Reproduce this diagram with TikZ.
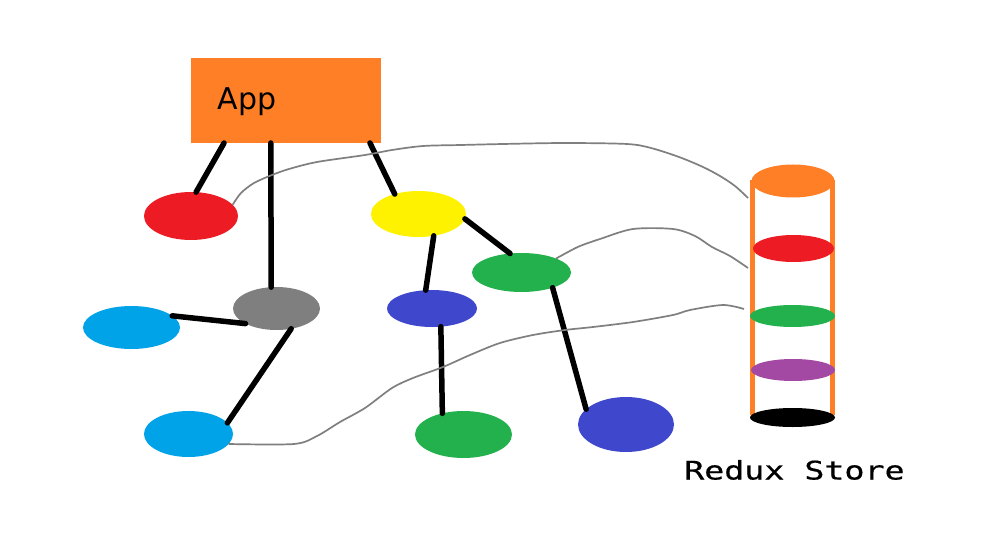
\documentclass[tikz,border=0pt]{standalone}
\usepackage{fontspec}
\usetikzlibrary{shapes.geometric,calc}
\newfontfamily\appfont{DejaVu Sans}
\newfontfamily\reduxfont[FakeStretch=1.3,FakeBold=0.6]{DejaVu Sans Mono}
\definecolor{pOrange}{HTML}{FF7F27}
\definecolor{pRed}{HTML}{ED1C24}
\definecolor{pYellow}{HTML}{FFF200}
\definecolor{pGreen}{HTML}{22B14C}
\definecolor{pBlue}{HTML}{3F48CC}
\definecolor{pCyan}{HTML}{00A2E8}
\definecolor{pGray}{HTML}{7F7F7F}
\definecolor{pPurple}{HTML}{A349A4}
\tikzset{
  ell/.style={ellipse, draw=none, inner sep=0pt, outer sep=0pt},
  link/.style={line width=5.5pt, line cap=round, black},
  wire/.style={line width=1.7pt, pGray},
  bar/.style={fill=pOrange, draw=none},
}
\begin{document}
\begin{tikzpicture}[x=1pt,y=-1pt]
\useasboundingbox[fill=white] (0,0) rectangle (995,540);
% App box
\node[rectangle, fill=pOrange, minimum width=190pt, minimum height=85pt, inner sep=0pt, outer sep=0pt] (app) at (286,100.5) {};
\node[anchor=base west, inner sep=0pt, font=\appfont\fontsize{30}{36}\selectfont] (applabel) at (217.5,109.5) {App};
% tree nodes
\node[ell, fill=pRed, minimum width=94pt, minimum height=48pt] (red) at (191,216) {};
\node[ell, fill=pYellow, minimum width=95pt, minimum height=46pt] (yellow) at (418.5,214) {};
\node[ell, fill=pGreen, minimum width=99pt, minimum height=39pt] (greenA) at (521.5,272.5) {};
\node[ell, fill=pGray, minimum width=87pt, minimum height=43pt] (gray) at (276.5,308.5) {};
\node[ell, fill=pBlue, minimum width=90pt, minimum height=37pt] (blueA) at (432,308.5) {};
\node[ell, fill=pCyan, minimum width=97pt, minimum height=43pt] (cyanA) at (131.5,327.5) {};
\node[ell, fill=pCyan, minimum width=89pt, minimum height=46pt] (cyanB) at (188.5,434) {};
\node[ell, fill=pGreen, minimum width=97pt, minimum height=47pt] (greenB) at (463.5,434.5) {};
\node[ell, fill=pBlue, minimum width=96pt, minimum height=55pt] (blueB) at (626,424.5) {};
% redux store cylinder
\fill[bar] (750,180) rectangle (755,415);
\fill[bar] (830,180) rectangle (835,415);
\node[ell, fill=pOrange, minimum width=83pt, minimum height=33pt] (sTop) at (793,181) {};
\node[ell, fill=pRed, minimum width=81pt, minimum height=27pt] (sRed) at (793.5,248.5) {};
\node[ell, fill=pGreen, minimum width=85pt, minimum height=22pt] (sGreen) at (792.5,316) {};
\node[ell, fill=pPurple, minimum width=84pt, minimum height=22pt] (sPurple) at (793,370) {};
\node[ell, fill=black, minimum width=85pt, minimum height=19pt] (sBlack) at (792.5,417.5) {};
\node[anchor=base west, inner sep=0pt, font=\reduxfont\fontsize{25.6}{30}\selectfont] (storelabel) at (684,479.5) {Redux Store};
\coordinate (s1) at (748,198);
\coordinate (s2) at (748,268);
\coordinate (s3) at (744,309);
% connectors
\draw[link] ($(app.south west)!0.174!(app.south east)$) -- (red.78);
\draw[link] ($(app.south west)!0.42!(app.south east)$) -- (gray.104);
\draw[link] ($(app.south west)!0.942!(app.south east)$) -- (yellow.140);
\draw[link] (gray.206) -- (cyanA.16);
\draw[link] (gray.-54) -- (cyanB.16);
\draw[link] (yellow.-55) -- (blueA.109);
\draw[link] (yellow.-6) -- (greenA.121);
\draw[link] (greenA.-26) -- (blueB.159);
\draw[link] (blueA.-64) -- (greenB.135);
% state wires
\draw[wire] plot[smooth, tension=0.5] coordinates {(red.15) (241,193) (254,183) (272,175) (289,169) (317,162) (365,155) (392,150) (423,146) (461,145) (503,144) (565,143) (627,144) (651,148) (679,157) (703,167) (720,176) (735,186) (s1)};
\draw[wire] plot[smooth, tension=0.5] coordinates {(greenA.22) (568,252) (580,246) (600,239) (633,229) (673,229) (695,236) (712,247) (730,256) (s2)};
\draw[wire] plot[smooth, tension=0.5] coordinates {(cyanB.-14) (294,444) (317,436) (340,422) (365,408) (392,388) (413,378) (443,367) (470,355) (500,343) (533,335) (565,330) (593,327) (633,322) (673,315) (690,310) (723,305) (s3)};
\end{tikzpicture}
\end{document}
